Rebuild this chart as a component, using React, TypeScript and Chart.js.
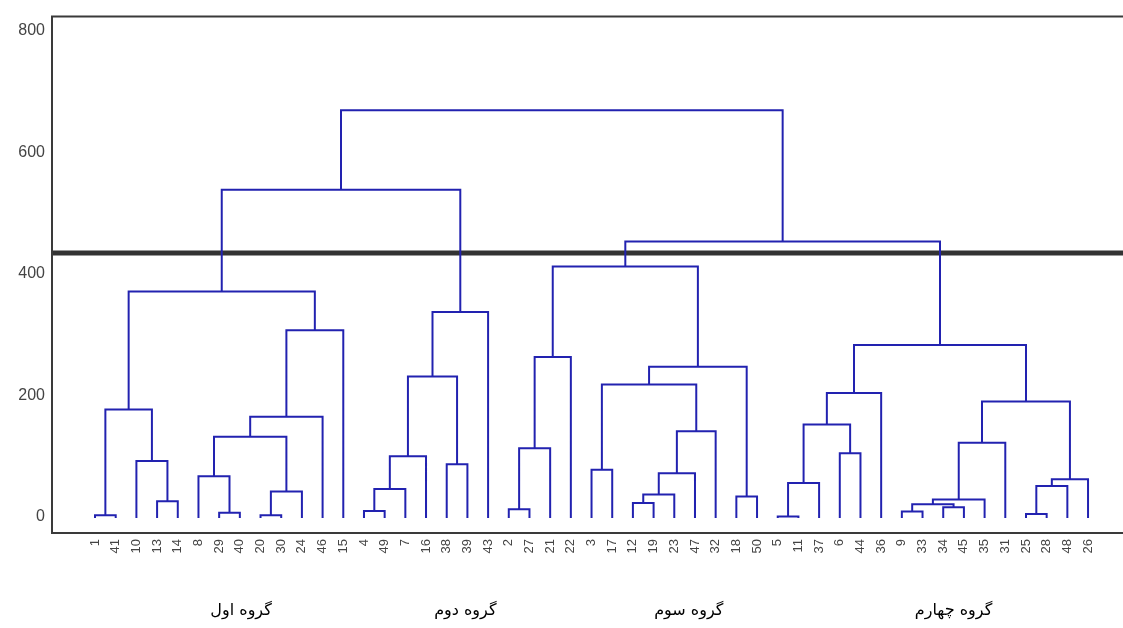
import React, { useEffect, useRef } from 'react';
import { Chart, registerables } from 'chart.js';

Chart.register(...registerables);

// Leaf order along the x axis (observation numbers)
const leafOrder = [
  1, 41, 10, 13, 14, 8, 29, 40, 20, 30, 24, 46, 15,
  4, 49, 7, 16, 38, 39, 43,
  2, 27, 21, 22, 3, 17, 12, 19, 23, 47, 32, 18, 50,
  5, 11, 37, 6, 44, 36, 9, 33, 34, 45, 35, 31, 25, 28, 48, 26,
];

// hclust-style merge table: negative = observation, positive = earlier merge row (1-based)
const mergeRows: [number, number][] = [
  [-1, -41], [-13, -14], [-10, 2], [1, 3],
  [-29, -40], [-8, 5], [-20, -30], [7, -24], [6, 8], [9, -46], [10, -15], [4, 11],
  [-4, -49], [13, -7], [14, -16], [-38, -39], [15, 16], [17, -43], [12, 18],
  [-2, -27], [20, -21], [21, -22],
  [-3, -17], [-12, -19], [24, -23], [25, -47], [26, -32], [23, 27], [-18, -50], [28, 29], [22, 30],
  [-5, -11], [32, -37], [-6, -44], [33, 34], [35, -36],
  [-9, -33], [-34, -45], [37, 38], [39, -35], [40, -31],
  [-25, -28], [42, -48], [43, -26], [41, 44], [36, 45],
  [31, 46], [19, 47],
];

const mergeHeights = [
  3, 26, 92, 177,
  7, 67, 3, 42, 132, 165, 307, 371,
  10, 46, 100, 87, 231, 337, 538,
  13, 113, 263,
  78, 23, 37, 72, 141, 218, 34, 247, 412,
  1, 56, 105, 152, 204,
  9, 16, 21, 29, 122,
  5, 51, 62, 190, 283,
  453, 669,
];

const yTicks = [0, 200, 400, 600, 800];
const cutHeight = 434;
const groupLabels = ['گروه اول', 'گروه دوم', 'گروه سوم', 'گروه چهارم'];
const groupLabelAt = [7.06, 17.9, 28.7, 41.5];

const X_MIN = -2.08;
const X_MAX = 49.69;
const Y_MIN = -26.2;
const Y_MAX = 822.9;

function buildSegments() {
  const pos = new Map<number, number>();
  leafOrder.forEach((l, i) => pos.set(l, i));
  const nodeX: number[] = [];
  const cx = (c: number) => (c < 0 ? (pos.get(-c) as number) : nodeX[c - 1]);
  const ch = (c: number) => (c < 0 ? 0 : mergeHeights[c - 1]);
  const pts: { x: number; y: number | null }[] = [];
  mergeRows.forEach(([a, b], i) => {
    const xa = cx(a);
    const xb = cx(b);
    const h = mergeHeights[i];
    nodeX[i] = (xa + xb) / 2;
    pts.push({ x: xa, y: ch(a) }, { x: xa, y: h }, { x: xb, y: h }, { x: xb, y: ch(b) }, { x: xb, y: null });
  });
  return pts;
}

const framePlugin = {
  id: 'frame',
  afterDatasetsDraw(chart: any) {
    const { ctx, chartArea } = chart;
    ctx.save();
    ctx.strokeStyle = '#3a3a3a';
    ctx.lineWidth = 2;
    ctx.beginPath();
    ctx.moveTo(chartArea.right + 2, chartArea.top);
    ctx.lineTo(chartArea.left, chartArea.top);
    ctx.lineTo(chartArea.left, chartArea.bottom);
    ctx.lineTo(chartArea.right + 2, chartArea.bottom);
    ctx.stroke();
    ctx.restore();
  },
};

const groupPlugin = {
  id: 'groups',
  afterDraw(chart: any) {
    const { ctx } = chart;
    const xs = chart.scales.x;
    ctx.save();
    ctx.font = '16px "DejaVu Sans"';
    ctx.fillStyle = '#000';
    ctx.textAlign = 'center';
    ctx.textBaseline = 'middle';
    ctx.direction = 'rtl';
    groupLabels.forEach((t, i) => {
      ctx.fillText(t, xs.getPixelForValue(groupLabelAt[i]), 611);
    });
    ctx.restore();
  },
};

export default function App() {
  const ref = useRef<HTMLCanvasElement | null>(null);
  useEffect(() => {
    if (!ref.current) return;
    const chart = new Chart(ref.current, {
      type: 'line',
      data: {
        datasets: [
          {
            label: 'dendrogram',
            data: buildSegments() as any,
            borderColor: '#2222b0',
            borderWidth: 2,
            pointRadius: 0,
            spanGaps: false,
            tension: 0,
            fill: false,
            borderCapStyle: 'square',
            borderJoinStyle: 'miter',
            order: 1,
          },
          {
            label: 'cut',
            data: [
              { x: X_MIN, y: cutHeight },
              { x: X_MAX, y: cutHeight },
            ],
            borderColor: '#333333',
            borderWidth: 5,
            pointRadius: 0,
            fill: false,
            order: 2,
          },
        ],
      },
      options: {
        animation: false,
        responsive: false,
        devicePixelRatio: 1,
        layout: { padding: { top: 13, right: 0, left: 0, bottom: 0 } },
        plugins: { legend: { display: false }, tooltip: { enabled: false } },
        scales: {
          x: {
            type: 'linear',
            min: X_MIN,
            max: X_MAX,
            grid: { display: false, drawTicks: false },
            border: { display: false },
            afterBuildTicks: (s: any) => {
              s.ticks = leafOrder.map((_, i) => ({ value: i }));
            },
            afterFit: (s: any) => {
              s.height = 95;
            },
            ticks: {
              autoSkip: false,
              minRotation: 90,
              maxRotation: 90,
              padding: 6,
              color: '#444',
              font: { family: '"Liberation Sans", Arial, sans-serif', size: 13 },
              callback: (v: any) => String(leafOrder[Math.round(Number(v))] ?? ''),
            },
          },
          y: {
            type: 'linear',
            min: Y_MIN,
            max: Y_MAX,
            grid: { display: false, drawTicks: false },
            border: { display: false },
            afterBuildTicks: (s: any) => {
              s.ticks = yTicks.map((v) => ({ value: v }));
            },
            afterFit: (s: any) => {
              s.width = 52;
            },
            ticks: {
              padding: 7,
              color: '#444',
              font: { family: '"Liberation Sans", Arial, sans-serif', size: 16 },
            },
          },
        },
      },
      plugins: [framePlugin, groupPlugin],
    });
    return () => chart.destroy();
  }, []);
  return (
    <div style={{ position: 'fixed', left: 0, top: 0, width: 1123, height: 628, background: '#fff' }}>
      <canvas ref={ref} width={1123} height={628} style={{ display: 'block' }} />
    </div>
  );
}
